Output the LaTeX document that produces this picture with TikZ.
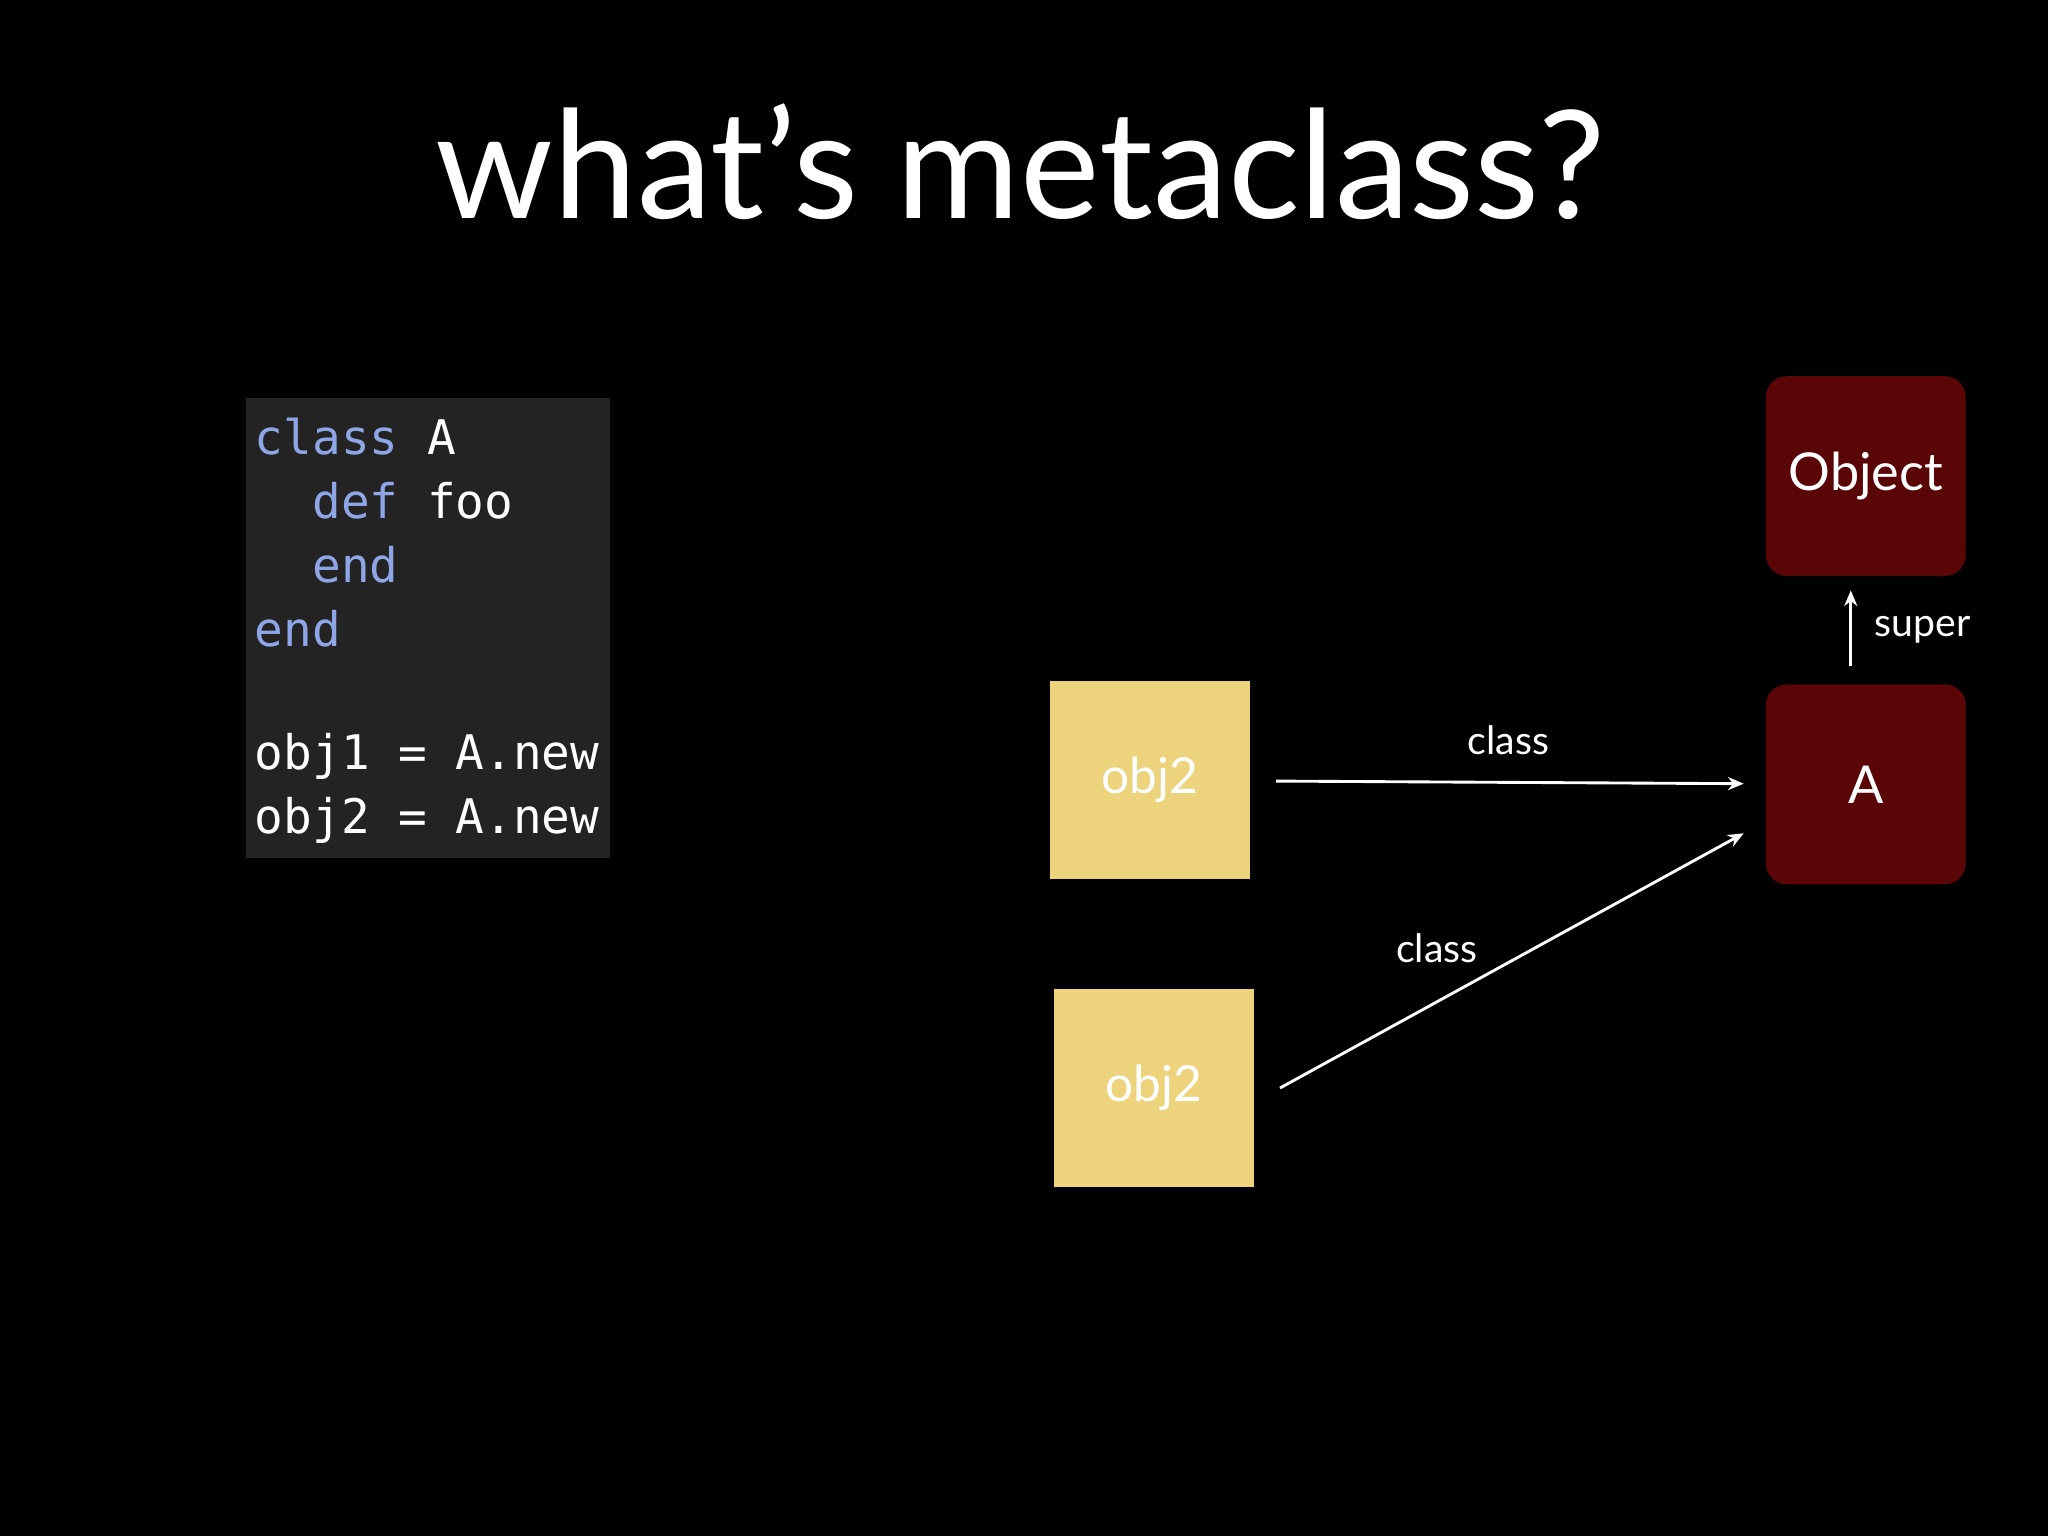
\documentclass[tikz,border=0pt]{standalone}
\usepackage{fontspec}
\setmainfont{Lato}
\setmonofont{DejaVu Sans Mono}
\usetikzlibrary{arrows.meta}
\definecolor{kw}{HTML}{8FA6E6}
\definecolor{codebg}{HTML}{232323}
\definecolor{sticky}{HTML}{EDD37C}
\definecolor{cls}{HTML}{5A0606}
\begin{document}
\begin{tikzpicture}[x=1pt,y=-1pt,
  sty/.style={fill=sticky,draw=none,minimum width=153pt,minimum height=152pt,inner sep=0pt,font=\fontsize{38}{40}\selectfont,text=white},
  clsbox/.style={fill=cls,rounded corners=16pt,minimum width=153pt,minimum height=153pt,inner sep=0pt,text=white,font=\fontsize{40}{44}\selectfont},
  conn/.style={draw=white,line width=2.2pt,-{Stealth[length=12pt,width=10pt]}},
  lbl/.style={text=white,font=\fontsize{30}{32}\selectfont},
  code/.style={anchor=west,text=white,font=\ttfamily\fontsize{36.5}{38}\selectfont,inner sep=0pt}]
\fill[black] (0,0) rectangle (1568,1176);
\node[text=white,font=\fontsize{115}{120}\selectfont] (title) at (781,124) {what’s metaclass?};
\fill[codebg] (188,305) rectangle (467,657);
\node[code] (c1) at (195,334) {\textcolor{kw}{class} A};
\node[code] (c2) at (195,383) {\textcolor{kw}{\ \ def} foo};
\node[code] (c3) at (195,432) {\textcolor{kw}{\ \ end}};
\node[code] (c4) at (195,481) {\textcolor{kw}{end}};
\node[code] (c5) at (195,579) {obj1 = A.new};
\node[code] (c6) at (195,628) {obj2 = A.new};
\node[sty] (o1) at (880.5,597) {obj2};
\node[sty] (o2) at (883.5,833) {obj2};
\node[clsbox] (A) at (1428.5,600.5) {A};
\node[clsbox] (Obj) at (1428.5,364.5) {Object};
\coordinate (s1) at (977,598);
\coordinate (e1) at (1335,600);
\coordinate (s2) at (980,833);
\coordinate (e2) at (1335,638);
\coordinate (s3) at (1417,510);
\coordinate (e3) at (1417,452);
\draw[conn] (s1) -- (e1);
\draw[conn] (s2) -- (e2);
\draw[conn] (s3) -- (e3);
\node[lbl] (l1) at (1155,567) {class};
\node[lbl] (l2) at (1100,726) {class};
\node[lbl] (l3) at (1472,482) {super};
\end{tikzpicture}
\end{document}
